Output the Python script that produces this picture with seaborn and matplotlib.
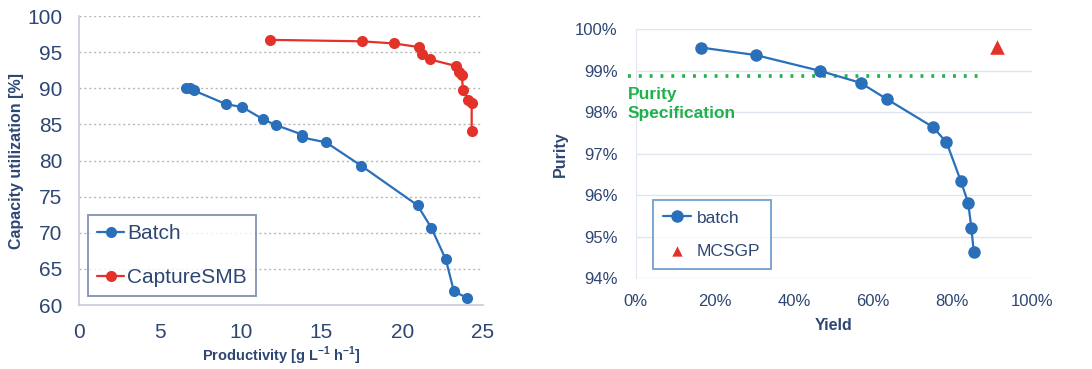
import pandas as pd
import numpy as np
import matplotlib.pyplot as plt
import seaborn as sns
from matplotlib.ticker import MultipleLocator, PercentFormatter

# =====================
# Data
# =====================
batch_prod = [6.6, 6.9, 7.1, 9.1, 10.1, 11.4, 12.2, 13.8, 13.8, 15.3, 17.45, 20.95, 21.8, 22.7, 23.2, 24.0]
batch_cap = [90.0, 90.0, 89.7, 87.8, 87.4, 85.7, 84.9, 83.6, 83.2, 82.5, 79.3, 73.8, 70.7, 66.3, 61.9, 61.0]

smb_prod = [11.8, 17.5, 19.5, 21.05, 21.2, 21.7, 23.3, 23.5, 23.7, 23.75, 24.1, 24.3, 24.3]
smb_cap = [96.7, 96.5, 96.2, 95.7, 94.8, 94.0, 93.1, 92.3, 91.9, 89.8, 88.4, 88.0, 84.1]

yield_batch = [16.5, 30.3, 46.5, 56.8, 63.4, 75.0, 78.5, 82.1, 84.0, 84.8, 85.4]
purity_batch = [99.56, 99.38, 99.00, 98.71, 98.32, 97.65, 97.28, 96.35, 95.81, 95.20, 94.63]

yield_mcsgp = [91.2]
purity_mcsgp = [99.58]

purity_spec = 98.88
spec_range = [-2, 88]

df_left = pd.DataFrame({
    'prod': batch_prod + smb_prod,
    'cap': batch_cap + smb_cap,
    'process': ['Batch'] * len(batch_prod) + ['CaptureSMB'] * len(smb_prod),
})
df_batch = pd.DataFrame({'yield': yield_batch, 'purity': purity_batch})
df_mcsgp = pd.DataFrame({'yield': yield_mcsgp, 'purity': purity_mcsgp})

# =====================
# Style
# =====================
sns.set_style('white')
plt.rcParams['font.family'] = ['Liberation Sans', 'DejaVu Sans']

BLUE = '#2a6fba'
RED = '#e3322a'
GREEN = '#1fb24a'
TXT = '#2e4674'

fig = plt.figure(figsize=(10.92, 3.69), dpi=100)
ax1 = fig.add_axes([0.0723, 0.1734, 0.370, 0.7832])
ax2 = fig.add_axes([0.5821, 0.2458, 0.3626, 0.6748])

# =====================
# Left: Capacity utilization vs productivity
# =====================
sns.lineplot(data=df_left, x='prod', y='cap', hue='process', sort=False, estimator=None,
             palette={'Batch': BLUE, 'CaptureSMB': RED}, marker='o',
             markersize=8, markeredgewidth=0, linewidth=1.6, ax=ax1)
ax1.set_xlim(0, 25)
ax1.set_ylim(60, 100)
ax1.xaxis.set_major_locator(MultipleLocator(5))
ax1.xaxis.set_minor_locator(MultipleLocator(1))
ax1.yaxis.set_major_locator(MultipleLocator(5))
ax1.grid(axis='y', linestyle=(0, (1.5, 2)), color='#b8b8b8', linewidth=1.0)
ax1.set_axisbelow(True)
for s in ['top', 'right']:
    ax1.spines[s].set_visible(False)
for s in ['left', 'bottom']:
    ax1.spines[s].set_color('#c5cbd8')
    ax1.spines[s].set_linewidth(1.2)
ax1.tick_params(axis='both', which='major', labelsize=15, colors=TXT, length=6,
                color='#c5cbd8', direction='out')
ax1.tick_params(axis='x', which='minor', length=4, color='#c5cbd8', direction='out')
ax1.tick_params(axis='x', pad=7)
ax1.tick_params(axis='y', pad=6)
ax1.set_xlabel('Productivity [g L$^{\\mathregular{-1}}$ h$^{\\mathregular{-1}}$]', fontsize=10.5,
               fontweight='bold', color=TXT, labelpad=2)
ax1.set_ylabel('Capacity utilization [%]', fontsize=11.5, fontweight='bold', color=TXT,
               labelpad=2)
leg1 = ax1.legend(loc='lower left', bbox_to_anchor=(0.022, 0.03), fontsize=15,
                  frameon=True, fancybox=False, handlelength=1.3, handletextpad=0.12,
                  borderpad=0.45, labelspacing=1.2, borderaxespad=0, labelcolor=TXT)
leg1.get_frame().set_edgecolor('#6d7fa3')
leg1.get_frame().set_linewidth(1.4)

# =====================
# Right: Purity vs yield
# =====================
ax2.plot(spec_range, [purity_spec, purity_spec], linestyle=(0, (0.8, 2.2)), color=GREEN,
         linewidth=2.6, clip_on=False, zorder=2)
sns.lineplot(data=df_batch, x='yield', y='purity', sort=False, estimator=None, color=BLUE,
             marker='o', markersize=9, markeredgewidth=0, linewidth=1.6, label='batch',
             ax=ax2, zorder=3)
sns.scatterplot(data=df_mcsgp, x='yield', y='purity', color=RED, marker='^', s=110,
                linewidth=0, label='MCSGP', ax=ax2, zorder=3)
ax2.text(-2, 98.62, 'Purity\nSpecification', color=GREEN, fontsize=12.5, fontweight='bold',
         va='top', ha='left', linespacing=1.4)
ax2.set_xlim(0, 100)
ax2.set_ylim(94, 100)
ax2.xaxis.set_major_locator(MultipleLocator(20))
ax2.yaxis.set_major_locator(MultipleLocator(1))
ax2.xaxis.set_major_formatter(PercentFormatter(decimals=0))
ax2.yaxis.set_major_formatter(PercentFormatter(decimals=0))
ax2.grid(axis='y', color='#dfe6f0', linewidth=1.0)
ax2.set_axisbelow(True)
for s in ['top', 'right', 'bottom']:
    ax2.spines[s].set_visible(False)
ax2.spines['left'].set_color('#dfe6f0')
ax2.tick_params(axis='both', labelsize=12, colors=TXT, length=0)
ax2.tick_params(axis='x', pad=11)
ax2.tick_params(axis='y', pad=13)
ax2.set_xlabel('Yield', fontsize=11.5, fontweight='bold', color=TXT, labelpad=7)
ax2.set_ylabel('Purity', fontsize=11.5, fontweight='bold', color=TXT, labelpad=5)
leg2 = ax2.legend(loc='lower left', bbox_to_anchor=(0.043, 0.036), fontsize=12.5,
                  frameon=True, fancybox=False, handlelength=1.6, handletextpad=0.35,
                  borderpad=0.6, labelspacing=1.05, borderaxespad=0, labelcolor=TXT)
leg2.get_frame().set_edgecolor('#5d90c8')
leg2.get_frame().set_linewidth(1.4)
leg2.legend_handles[1].set_sizes([55])

plt.savefig('out.png', dpi=100)
